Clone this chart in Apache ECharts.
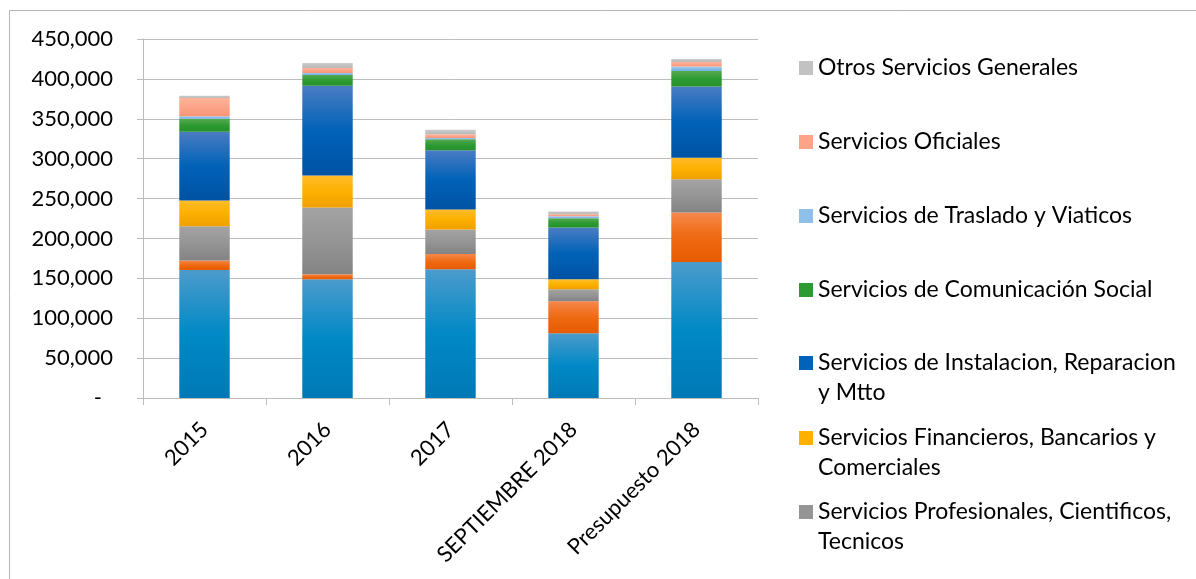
<!DOCTYPE html>
<html>
<head>
<meta charset="utf-8">
<script src="https://cdn.jsdelivr.net/npm/echarts@6/dist/echarts.min.js"></script>
<style>
html,body{margin:0;padding:0;background:#fff;}
#chart{width:1196px;height:579px;}
</style>
</head>
<body>
<div id="chart"></div>
<script>
// ---- data ----
const categories = ['2015', '2016', '2017', 'SEPTIEMBRE 2018', 'Presupuesto 2018'];
const seriesNames = [
  'Servicios Básicos',
  'Servicios de Arrendamiento',
  'Servicios Profesionales, Cientificos, Tecnicos',
  'Servicios Financieros, Bancarios y Comerciales',
  'Servicios de Instalacion, Reparacion y Mtto',
  'Servicios de Comunicación Social',
  'Servicios de Traslado y Viaticos',
  'Servicios Oficiales',
  'Otros Servicios Generales'
];
const basicos       = [160400, 148750, 161250, 81250, 170400];
const arrendamiento = [12100, 6250, 19150, 40000, 62100];
const profesionales = [42900, 83750, 30850, 15000, 41700];
const financieros   = [32100, 40000, 25000, 12500, 27050];
const instalacion   = [86250, 112500, 74150, 65000, 89150];
const comunicacion  = [16250, 13750, 13800, 11650, 19600];
const traslado      = [3300, 2500, 1650, 2500, 5400];
const oficiales     = [22700, 6250, 4600, 2500, 5850];
const otros         = [2750, 6250, 5850, 3350, 3750];
const yTicks = [0, 50000, 100000, 150000, 200000, 250000, 300000, 350000, 400000, 450000];

const seriesValues = [basicos, arrendamiento, profesionales, financieros, instalacion, comunicacion, traslado, oficiales, otros];

// ---- styles ----
function grad(top, mid, bottom) {
  return new echarts.graphic.LinearGradient(0, 0, 0, 1, [
    {offset: 0, color: top}, {offset: 0.5, color: mid}, {offset: 1, color: bottom}
  ]);
}
const fills = [
  grad('#4c9bcc', '#0089c6', '#0079b6'),
  grad('#f6874c', '#ef6a12', '#e65b00'),
  grad('#a3a3a3', '#959595', '#838383'),
  grad('#ffbb2a', '#fdb000', '#f0a000'),
  grad('#4a7cc2', '#0062b8', '#0052a3'),
  grad('#55aa52', '#2e9a32', '#23902a'),
  grad('#a5cdf0', '#86bbe8', '#78b0e2'),
  grad('#ffb39b', '#fda488', '#f99576'),
  grad('#cccccc', '#c2c2c2', '#b8b8b8')
];
const legendColors = ['#0089c6', '#ef6a12', '#959595', '#fdb000', '#0062b8', '#2e9a32', '#8ec0ea', '#fda488', '#c2c2c2'];

const FONT = 'Lato';
const FS = 22;
const LFS = 23;
const LH = 30;

const series = seriesNames.map((name, i) => ({
  name: name,
  type: 'bar',
  stack: 'total',
  barWidth: '41%',
  data: seriesValues[i],
  itemStyle: {color: fills[i]},
  emphasis: {disabled: true}
}));

// legend: one per visible entry (top-down reversed order, as in reference)
const legendEntries = [
  {name: 'Otros Servicios Generales', text: 'Otros Servicios Generales', center: 68},
  {name: 'Servicios Oficiales', text: 'Servicios Oficiales', center: 142},
  {name: 'Servicios de Traslado y Viaticos', text: 'Servicios de Traslado y Viaticos', center: 216},
  {name: 'Servicios de Comunicación Social', text: 'Servicios de Comunicación Social', center: 290},
  {name: 'Servicios de Instalacion, Reparacion y Mtto', text: 'Servicios de Instalacion, Reparacion\ny Mtto', center: 363},
  {name: 'Servicios Financieros, Bancarios y Comerciales', text: 'Servicios Financieros, Bancarios y\nComerciales', center: 438},
  {name: 'Servicios Profesionales, Cientificos, Tecnicos', text: 'Servicios Profesionales, Cientificos,\nTecnicos', center: 512}
];
const legends = legendEntries.map(e => {
  const two = e.text.indexOf('\n') >= 0;
  const idx = seriesNames.indexOf(e.name);
  const shown = two ? '\n' + e.text : e.text;
  return {
    left: 799,
    top: two ? e.center - 1.5 * LH : e.center - LH / 2,
    padding: 0,
    orient: 'vertical',
    icon: 'rect',
    itemWidth: 14,
    itemHeight: 14,
    selectedMode: false,
    data: [{name: e.name, itemStyle: {color: legendColors[idx]}}],
    formatter: () => shown,
    textStyle: {fontFamily: FONT, fontSize: LFS, color: '#000', lineHeight: LH}
  };
});

const chart = echarts.init(document.getElementById('chart'), null, {renderer: 'canvas'});
chart.setOption({
  animation: false,
  backgroundColor: '#fff',
  textStyle: {fontFamily: FONT},
  graphic: [{
    type: 'rect',
    shape: {x: 9.5, y: 10.5, width: 1400, height: 800},
    style: {fill: 'none', stroke: '#b4b4b4', lineWidth: 1},
    silent: true
  }],
  grid: {left: 143, right: 438, top: 39, bottom: 181, containLabel: false},
  legend: legends,
  xAxis: {
    type: 'category',
    data: categories,
    boundaryGap: true,
    axisLine: {show: true, lineStyle: {color: '#bcbcbc', width: 1}},
    axisTick: {show: true, alignWithLabel: false, length: 7, lineStyle: {color: '#bcbcbc'}},
    axisLabel: {
      rotate: 45, interval: 0, margin: 28,
      fontFamily: FONT, fontSize: FS, color: '#000'
    },
    splitLine: {show: false}
  },
  yAxis: {
    type: 'value',
    min: 0, max: 450000, interval: 50000,
    axisLine: {show: true, lineStyle: {color: '#bcbcbc', width: 1}},
    axisTick: {show: true, length: 6, lineStyle: {color: '#bcbcbc'}},
    axisLabel: {
      margin: 30, fontFamily: FONT, fontSize: FS, color: '#000',
      formatter: v => v === 0 ? '{d|-}' : v.toLocaleString('en-US'),
      rich: {d: {fontFamily: FONT, fontSize: FS, color: '#000', padding: [0, 11, 0, 0]}}
    },
    splitLine: {show: true, lineStyle: {color: '#bcbcbc', width: 1}}
  },
  series: series
});
</script>
</body>
</html>
